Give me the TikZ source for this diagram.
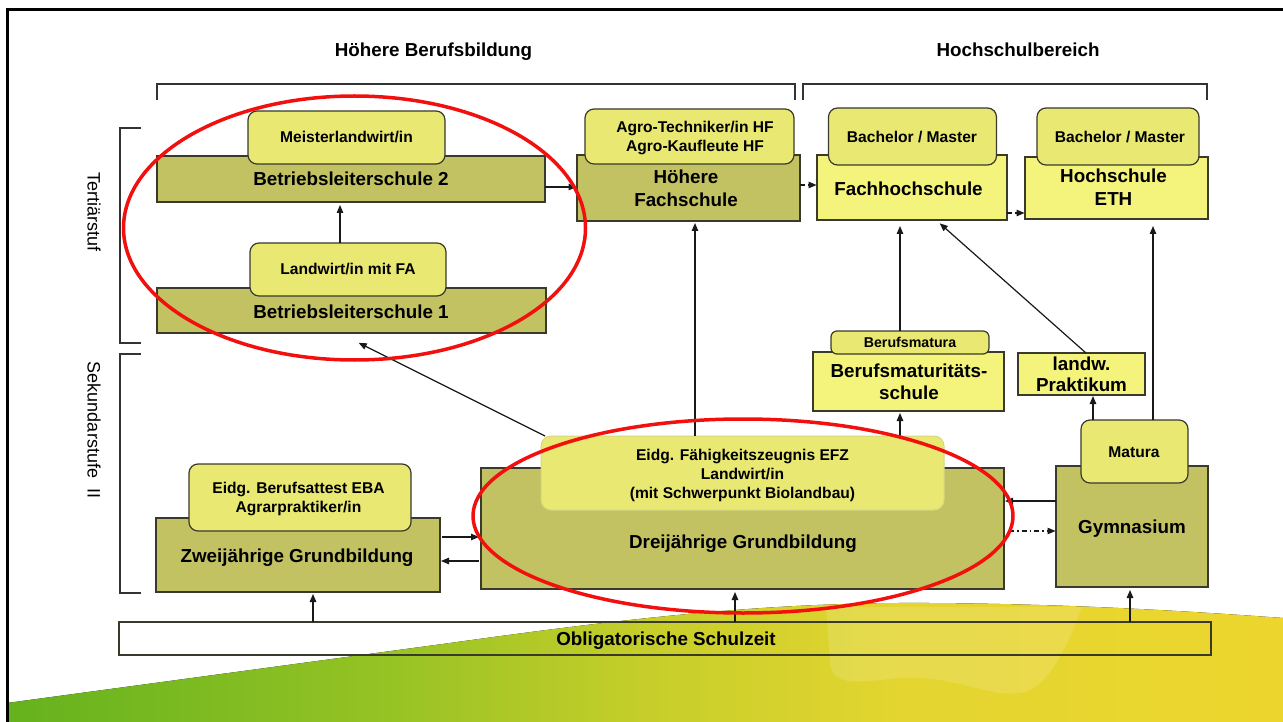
\documentclass[tikz,border=0pt]{standalone}
\usepackage{fontspec}
\setmainfont{Liberation Sans}
\usetikzlibrary{arrows.meta}
\definecolor{olivec}{HTML}{C2C262}
\definecolor{tabc}{HTML}{E8E872}
\definecolor{yelc}{HTML}{F4F47C}
\definecolor{bdr}{HTML}{3A3A2C}
\definecolor{softbdr}{HTML}{D6D684}
\definecolor{redc}{HTML}{F2100F}
\definecolor{wg1}{RGB}{100,178,30}
\definecolor{wg2}{RGB}{150,195,36}
\definecolor{wg3}{RGB}{198,206,42}
\definecolor{wg4}{RGB}{228,213,48}
\definecolor{wg5}{RGB}{236,214,46}
\pgfdeclarehorizontalshading{wave}{100bp}{color(0bp)=(wg1); color(25bp)=(wg1); color(40bp)=(wg2); color(50bp)=(wg3); color(60bp)=(wg4); color(75bp)=(wg5); color(100bp)=(wg5)}
\newcommand{\twoln}[1]{\begin{tabular}[t]{@{}c@{}}#1\end{tabular}}
\begin{document}
\begin{tikzpicture}[x=1pt,y=-1pt,
  box/.style={draw=bdr, line width=1.2pt, inner sep=0pt, outer sep=0pt},
  dark/.style={box, fill=olivec},
  light/.style={box, fill=yelc},
  tab/.style={box, fill=tabc, rounded corners=9pt},
  big/.style={font=\fontsize{18.8}{22.8}\selectfont\bfseries, inner sep=0pt, anchor=base},
  sml/.style={font=\fontsize{15.6}{19}\selectfont\bfseries, inner sep=0pt, anchor=base},
  side/.style={font=\fontsize{18}{22}\selectfont, inner sep=0pt, rotate=-90},
  arr/.style={draw=black!90, line width=1.2pt, -{Triangle[length=8pt,width=6.5pt]}},
  ddot/.style={arr, dash pattern=on 5pt off 3pt on 1.5pt off 3pt},
  brk/.style={draw=black!80, line width=1.3pt},
  ring/.style={draw=redc, line width=3.5pt}]
\useasboundingbox (0,0) rectangle (1283,722);
\fill[white] (0,0) rectangle (1283,722);
% background wave
\fill[shading=wave] (7,722) -- (7,703) -- (450,643) .. controls (650,615) and (780,602) .. (930,603) .. controls (1080,604) and (1200,612) .. (1283,618) -- (1283,722) -- cycle;
\fill[white, opacity=0.14] (826,607) -- (830,665) .. controls (835,690) and (870,680) .. (900,678) .. controls (960,675) and (990,700) .. (1025,692) .. controls (1050,685) and (1070,640) .. (1082,607) -- cycle;
% frame
\draw[line width=3pt] (7,722) -- (7,10) -- (1283,10);
% brackets and headers
\draw[brk] (157,100) -- (157,84) -- (795,84) -- (795,100);
\draw[brk] (803,100) -- (803,84) -- (1207,84) -- (1207,100);
\draw[brk] (141,128) -- (120,128) -- (120,343) -- (141,343);
\draw[brk] (141,354) -- (120,354) -- (120,593) -- (141,593);
\node[big] (h1) at (433.5,57) {Höhere Berufsbildung};
\node[big] (h2) at (1018,57) {Hochschulbereich};
\node[side] (s1) at (94,212) {Tertiärstuf};
\node[side] (s2) at (94,430) {Sekundarstufe\ \ II};
% boxes
\node[dark, minimum width=388pt, minimum height=46pt] (bls2) at (351,179) {};
\node[tab, minimum width=197pt, minimum height=53pt] (mlw) at (346.5,137.5) {};
\node[dark, minimum width=389pt, minimum height=45pt] (bls1) at (351.5,310.5) {};
\node[tab, minimum width=196pt, minimum height=53pt] (lfa) at (348,269.5) {};
\node[dark, minimum width=223pt, minimum height=66pt] (hf) at (688.5,188) {};
\node[tab, minimum width=209pt, minimum height=55pt] (agro) at (689.5,136.5) {};
\node[light, minimum width=190pt, minimum height=65pt] (fh) at (912,187.5) {};
\node[tab, minimum width=168pt, minimum height=57pt] (bm1) at (912.5,136.5) {};
\node[light, minimum width=183pt, minimum height=62pt] (eth) at (1116.5,188) {};
\node[tab, minimum width=162pt, minimum height=57pt] (bm2) at (1118,136.5) {};
\node[light, minimum width=191pt, minimum height=59pt] (bms) at (908.5,381.5) {};
\node[tab, rounded corners=6pt, minimum width=158pt, minimum height=23pt] (bmat) at (910,342.5) {};
\node[light, minimum width=127pt, minimum height=42pt] (prak) at (1081.5,374) {};
\node[dark, minimum width=152pt, minimum height=121pt] (gym) at (1132,526.5) {};
\node[tab, minimum width=107pt, minimum height=63pt] (mat) at (1134.5,451.5) {};
\node[dark, minimum width=523pt, minimum height=121pt] (drei) at (742.5,528.5) {};
\node[tab, draw=softbdr, line width=1pt, rounded corners=10pt, minimum width=403pt, minimum height=74pt] (efz) at (742.5,473) {};
\node[dark, minimum width=284pt, minimum height=74pt] (zwei) at (298,555) {};
\node[tab, minimum width=222pt, minimum height=67pt] (eba) at (300,497.5) {};
\node[box, minimum width=1092pt, minimum height=33pt] (obl) at (665,638.5) {};
% texts
\node[sml] (mlwt) at (346.5,143) {Meisterlandwirt/in};
\node[big] (bls2t) at (351,186) {Betriebsleiterschule 2};
\node[sml] (lfat) at (348,275) {Landwirt/in mit FA};
\node[big] (bls1t) at (351,318) {Betriebsleiterschule 1};
\node[sml] (agrot) at (695,133) {\twoln{Agro-Techniker/in HF\\Agro-Kaufleute HF}};
\node[big] (hft) at (686,184) {\twoln{Höhere\\Fachschule}};
\node[sml] (bm1t) at (912,143) {Bachelor / Master};
\node[big] (fht) at (908.5,196) {Fachhochschule};
\node[sml] (bm2t) at (1120,143) {Bachelor / Master};
\node[big] (etht) at (1113.5,183) {\twoln{Hochschule\\ETH}};
\node[sml, font=\fontsize{14.2}{17}\selectfont\bfseries] (bmatt) at (910,347) {Berufsmatura};
\node[big, font=\fontsize{18.8}{22}\selectfont\bfseries] (bmst) at (909,377) {\twoln{Berufsmaturitäts-\\schule}};
\node[big, font=\fontsize{18.8}{21.5}\selectfont\bfseries] (prakt) at (1081.5,370) {\twoln{landw.\\Praktikum}};
\node[sml] (matt) at (1134,457) {Matura};
\node[big] (gymt) at (1132,533) {Gymnasium};
\node[sml] (efzt) at (742.5,460) {\twoln{Eidg. Fähigkeitszeugnis EFZ\\Landwirt/in\\(mit Schwerpunkt Biolandbau)}};
\node[big] (dreit) at (743,548) {Dreijährige Grundbildung};
\node[sml] (ebat) at (298.5,493) {\twoln{Eidg. Berufsattest EBA\\Agrarpraktiker/in}};
\node[big] (zweit) at (297,562) {Zweijährige Grundbildung};
\node[big] (oblt) at (666,645) {Obligatorische Schulzeit};
% connectors
\draw[arr, shorten >=3pt] (lfa.north -| 340,0) -- (bls2.south -| 340,0);
\draw[arr, shorten >=0.5pt] (bls2.east |- 0,187) -- (hf.west |- 0,187);
\draw[ddot, shorten >=0.5pt] (hf.east |- 0,185) -- (fh.west |- 0,185);
\draw[ddot, shorten >=0.5pt] (fh.east |- 0,213) -- (eth.west |- 0,213);
\draw[arr, shorten >=6pt] (bmat.north -| 900,0) -- (fh.south -| 900,0);
\draw[arr, shorten >=5pt] (prak.north -| 1086,0) -- (fh.south -| 936,0);
\draw[arr, shorten >=1pt] (mat.north -| 1093,0) -- (prak.south -| 1093,0);
\draw[arr, shorten >=7pt] (mat.north -| 1153,0) -- (eth.south -| 1153,0);
\draw[arr, shorten >=2pt] (efz.north -| 695,0) -- (hf.south -| 695,0);
\draw[arr, shorten >=22pt] ([xshift=4pt]efz.north west) -- (bls1.south -| 339,0);
\draw[arr, shorten >=2pt] (efz.north -| 900,0) -- (bms.south -| 900,0);
\draw[arr, shorten >=1pt] (gym.west |- 0,501) -- (drei.east |- 0,501);
\draw[ddot, shorten <=5pt, shorten >=0.5pt] (drei.east |- 0,531) -- (gym.west |- 0,531);
\draw[arr, shorten <=2pt, shorten >=2pt] (zwei.east |- 0,537) -- (drei.west |- 0,537);
\draw[arr, shorten <=2pt, shorten >=1pt] (drei.west |- 0,561) -- (zwei.east |- 0,561);
\draw[arr, shorten >=2pt] (obl.north -| 313,0) -- (zwei.south -| 313,0);
\draw[arr, shorten >=3pt] (obl.north -| 735,0) -- (drei.south -| 735,0);
\draw[arr, shorten >=3pt] (obl.north -| 1130,0) -- (gym.south -| 1130,0);
% red rings
\draw[ring] (354.5,228) ellipse [x radius=231, y radius=132];
\draw[ring] (743,516) ellipse [x radius=270, y radius=97];
\end{tikzpicture}
\end{document}
